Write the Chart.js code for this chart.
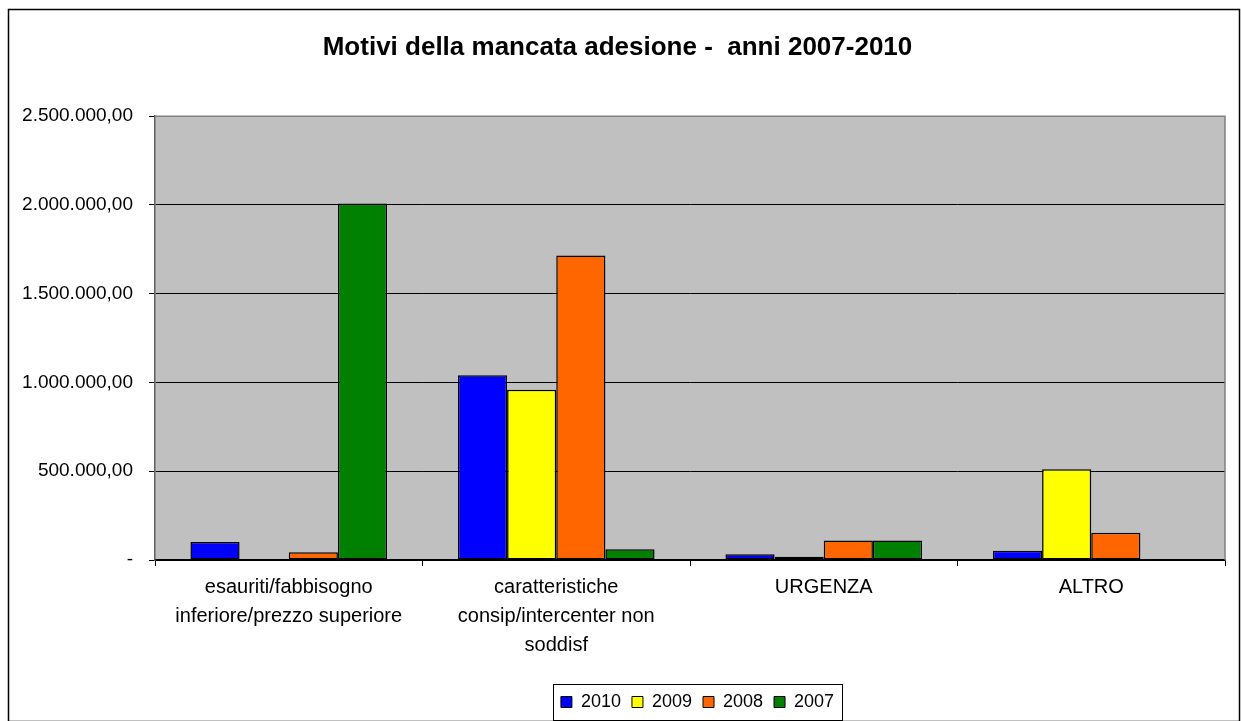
<!DOCTYPE html>
<html>
<head>
<meta charset="utf-8">
<script src="https://cdn.jsdelivr.net/npm/chart.js@4"></script>
<style>
  html, body { margin: 0; padding: 0; background: #fff; }
  #wrap { width: 1241px; height: 721px; position: relative; }
</style>
</head>
<body>
<div id="wrap"><canvas id="chart"></canvas></div>
<script>
// ── Data ─────────────────────────
const categories = [
  ['esauriti/fabbisogno', 'inferiore/prezzo superiore'],
  ['caratteristiche', 'consip/intercenter non', 'soddisf'],
  'URGENZA',
  'ALTRO'
];
const years = ['2010', '2009', '2008', '2007'];
const values2010 = [101000, 1041000, 32000, 52000];
const values2009 = [0, 959000, 19000, 511000];
const values2008 = [43000, 1715000, 110000, 153000];
const values2007 = [2008000, 60000, 110000, 0];
const yearColors = ['#0000FF', '#FFFF00', '#FF6600', '#008000'];
const yTicks = [0, 500000, 1000000, 1500000, 2000000, 2500000];

function formatIt(v) {
  if (v === 0) return '-';
  const [int, dec] = v.toFixed(2).split('.');
  return int.replace(/\B(?=(\d{3})+(?!\d))/g, '.') + ',' + dec;
}

const FONT = 'Arial, "Liberation Sans", sans-serif';
const LEGEND_SHIFT = 80; // legend sits right of centre in the original

// plot background, plot border, outer frame, legend frame
const decor = {
  id: 'decor',
  afterLayout(chart) {
    const lg = chart.legend;
    lg.left += LEGEND_SHIFT;
    lg.right += LEGEND_SHIFT;
    lg.legendHitBoxes.forEach(hb => { hb.left += LEGEND_SHIFT; });
  },
  beforeDraw(chart) {
    const { ctx, chartArea: a } = chart;
    ctx.save();
    ctx.fillStyle = '#C0C0C0';
    ctx.fillRect(a.left, a.top, a.right - a.left, a.bottom - a.top);
    ctx.restore();
  },
  afterDraw(chart) {
    const { ctx, chartArea: a } = chart;
    ctx.save();
    ctx.strokeStyle = '#808080';
    ctx.lineWidth = 1.5;
    ctx.beginPath();
    ctx.moveTo(a.left, a.top);
    ctx.lineTo(a.right, a.top);
    ctx.lineTo(a.right, a.bottom);
    ctx.stroke();
    // outer frame
    ctx.strokeStyle = '#000';
    ctx.lineWidth = 1.5;
    ctx.strokeRect(8.5, 9.5, 1231, 712);
    // legend frame
    const boxes = chart.legend.legendHitBoxes;
    if (boxes.length) {
      const first = boxes[0], last = boxes[boxes.length - 1];
      const x0 = first.left - 8, x1 = last.left + last.width + 8;
      const y0 = first.top - 9, y1 = first.top + first.height + 9;
      ctx.lineWidth = 1;
      ctx.strokeRect(Math.round(x0) + 0.5, Math.round(y0) + 0.5, Math.round(x1 - x0), Math.round(y1 - y0));
    }
    ctx.restore();
  }
};

const datasets = [values2010, values2009, values2008, values2007].map((vals, i) => ({
  label: years[i],
  data: vals,
  backgroundColor: yearColors[i],
  borderColor: '#000',
  borderWidth: 1.5,
  borderSkipped: false,
  categoryPercentage: 0.735,
  barPercentage: 1.0,
}));

new Chart(document.getElementById('chart'), {
  type: 'bar',
  data: { labels: categories, datasets },
  options: {
    responsive: true,
    maintainAspectRatio: false,
    animation: false,
    devicePixelRatio: 1,
    layout: { padding: { left: 10, right: 16, top: 10, bottom: 0 } },
    plugins: {
      title: {
        display: true,
        text: 'Motivi della mancata adesione -  anni 2007-2010',
        color: '#000',
        font: { family: FONT, size: 26, weight: 'bold' },
        padding: { top: 22, bottom: 53 }
      },
      legend: {
        position: 'bottom',
        labels: {
          color: '#000',
          font: { family: FONT, size: 18 },
          boxWidth: 11,
          boxHeight: 11,
          padding: 11,
          generateLabels(chart) {
            return chart.data.datasets.map((ds, i) => ({
              text: ds.label,
              fillStyle: ds.backgroundColor,
              strokeStyle: '#000',
              lineWidth: 1,
              datasetIndex: i
            }));
          }
        }
      },
      tooltip: { enabled: false }
    },
    scales: {
      x: {
        grid: { display: true, drawOnChartArea: false, drawTicks: true, tickLength: 6, color: '#000', offset: true },
        border: { color: '#000', width: 1.5 },
        ticks: {
          color: '#000',
          font: { family: FONT, size: 20, lineHeight: 1.45 },
          padding: 7,
          maxRotation: 0,
          autoSkip: false
        },
        afterFit(scale) { scale.height = 122; }
      },
      y: {
        min: 0,
        max: 2500000,
        afterBuildTicks(scale) { scale.ticks = yTicks.map(v => ({ value: v })); },
        grid: { color: '#000', lineWidth: 1, tickLength: 6 },
        border: { color: '#606060', width: 1.5 },
        ticks: {
          color: '#000',
          font: { family: FONT, size: 19 },
          padding: 16,
          callback: v => formatIt(v)
        },
        afterFit(scale) { scale.width = 145; }
      }
    }
  },
  plugins: [decor]
});
</script>
</body>
</html>
